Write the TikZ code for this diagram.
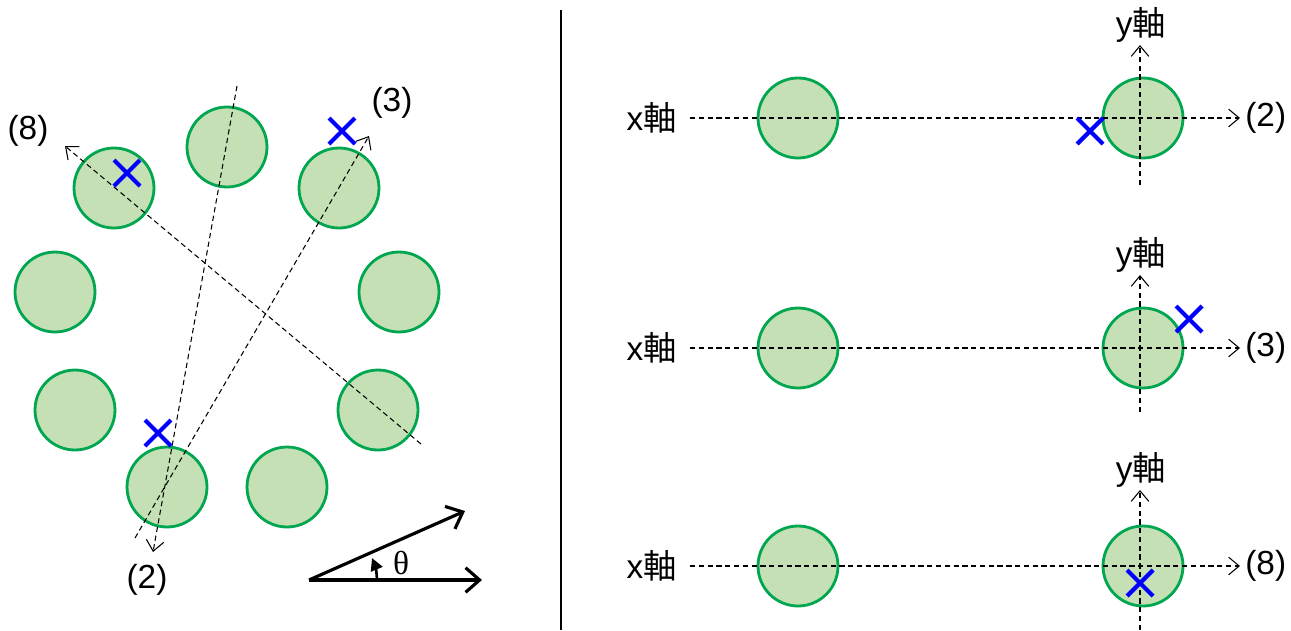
\documentclass[tikz,border=0pt]{standalone}
\usepackage{fontspec}
\setmainfont{Liberation Sans}
\newfontfamily\cjk{Noto Sans CJK JP}
\newfontfamily\serif{Liberation Serif}
\usetikzlibrary{arrows.meta}
\begin{document}
\begin{tikzpicture}[x=0.02cm,y=-0.02cm,
 pin/.style={circle,draw={rgb,255:red,0;green,166;blue,80},fill={rgb,255:red,197;green,224;blue,180},line width=1.6pt,minimum size=1.6cm,inner sep=0pt},
 dl/.style={line width=0.6pt,dash pattern=on 3pt off 2pt},
 da/.style={dl,-{Straight Barb[length=6pt,width=10pt]}},
 lab/.style={font=\fontsize{19}{22}\selectfont,inner sep=0pt},
 cr/.style={draw=blue,line width=2.4pt}]
\useasboundingbox (0,0) rectangle (1291,630);
% left circles
\foreach \n/\x/\y in {a/114/188,b/227/147,c/339/188,d/55/292,e/399/292,f/75/410,g/378/410,h/167/487,i/287/487}
  \node[pin] (\n) at (\x,\y) {};
\coordinate (s8) at (421,444); \coordinate (e8) at (65,146);
\coordinate (s2) at (237,86); \coordinate (e2) at (153,552);
\coordinate (s3) at (135,538); \coordinate (e3) at (369,136);
\draw[da] (s8) -- (e8);
\draw[da] (s2) -- (e2);
\draw[da] (s3) -- (e3);
\node[lab] (l8) at (28,131) {(8)};
\node[lab] (l3) at (392,103) {(3)};
\node[lab] (l2) at (147,580) {(2)};
\draw[cr] (114,160) -- (140,186) (114,186) -- (140,160);
\draw[cr] (329,118) -- (355,144) (329,144) -- (355,118);
\draw[cr] (145,420) -- (171,446) (145,446) -- (171,420);
% angle
\coordinate (o) at (309,580); \coordinate (t1) at (465,511); \coordinate (t2) at (482,580);
\draw[line width=1.8pt,-{Straight Barb[length=8pt,width=14pt]}] (o) -- (t1);
\draw[line width=1.8pt,-{Straight Barb[length=8pt,width=14pt]}] (o) -- (t2);
\coordinate (ta) at (377,580); \coordinate (tb) at (372,558);
\draw[line width=1.5pt,-{Triangle[length=7pt,width=7pt]}] (ta) to[bend right=10] (tb);
\node[lab,font=\fontsize{19}{22}\selectfont\serif] (th) at (401,563) {θ};
% separator
\coordinate (sp1) at (561,10); \coordinate (sp2) at (561,630);
\draw[line width=0.6pt] (sp1) -- (sp2);
% right rows
\foreach \r/\y/\lab/\cx/\cy/\ya/\yb/\yl in {1/118/(2)/1090/131/185/45/25, 2/348/(3)/1189/319/412/275/255, 3/566/(8)/1140/583/630/490/470}{
  \node[pin] (L\r) at (798,\y) {};
  \node[pin] (R\r) at (1143,\y) {};
  \coordinate (xs\r) at (690,\y); \coordinate (xe\r) at (1240,\y);
  \coordinate (ys\r) at (1140,\ya); \coordinate (ye\r) at (1140,\yb);
  \draw[da] (xs\r) -- (xe\r);
  \draw[da] (ys\r) -- (ye\r);
  \node[lab,anchor=east] (xl\r) at (677,\y) {x{\cjk 軸}};
  \node[lab,anchor=west] (pl\r) at (1245,\y) {\lab};
  \node[lab] (yl\r) at (1141,\yl) {y{\cjk 軸}};
  \draw[cr] (\cx-13,\cy-13) -- (\cx+13,\cy+13) (\cx-13,\cy+13) -- (\cx+13,\cy-13);
}
\end{tikzpicture}
\end{document}
